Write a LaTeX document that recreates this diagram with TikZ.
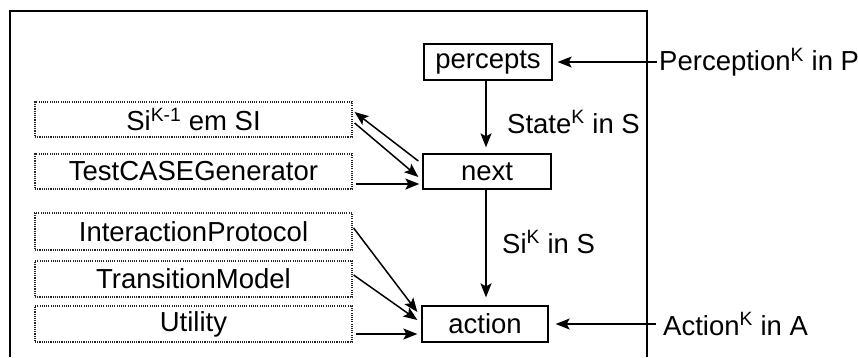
\documentclass[tikz,border=0pt]{standalone}
\usepackage{fontspec}
\setmainfont{Liberation Sans}
\usetikzlibrary{arrows.meta,calc}
\begin{document}
\begin{tikzpicture}[x=1pt,y=-1pt,
  every node/.style={font=\fontsize{27.5}{30}\selectfont},
  solidbox/.style={draw,line width=1.3pt,inner sep=0pt,minimum height=36pt},
  dotbox/.style={draw=black!85,line width=1.2pt,dash pattern=on 1.1pt off 1.1pt,inner sep=0pt,minimum width=317pt,minimum height=36pt},
  flow/.style={line width=1.5pt,-{Stealth[length=14pt,width=11pt,inset=3pt]}},
  lbl/.style={anchor=west,inner sep=0pt}]
\useasboundingbox (0,0) rectangle (858,357);
% open frame of the agent
\draw[line width=1.6pt] (10,357) -- (10,11) -- (647,11) -- (647,357);

% main pipeline
\node[solidbox,minimum width=128pt] (percepts) at (488,62) {percepts};
\node[solidbox,minimum width=128pt,minimum height=35pt] (next) at (487,171.5) {next};
\node[solidbox,minimum width=126pt] (action) at (485,324) {action};

% knowledge modules
\node[dotbox,minimum height=35pt] (si) at (193.5,119.5) {Si\textsuperscript{K-1} em SI};
\node[dotbox,minimum height=35pt] (test) at (193.5,171.5) {TestCASEGenerator};
\node[dotbox,minimum height=37pt] (inter) at (193.5,231.5) {InteractionProtocol};
\node[dotbox] (trans) at (193.5,279) {TransitionModel};
\node[dotbox] (util) at (193.5,324) {Utility};

% external inputs
\coordinate (pin) at (657,62);
\coordinate (ain) at (656,324);
\node[lbl] (plabel) at (659,62) {Perception\textsuperscript{K} in P};
\node[lbl] (alabel) at (663,324) {Action\textsuperscript{K} in A};
\draw[flow] (pin) -- ($(percepts.east)+(5,0)$);
\draw[flow] (ain) -- ($(action.east)+(7,0)$);

% vertical flow
\draw[flow] ($(percepts.south)+(-2,0)$) -- ($(next.north)+(-1,-6)$);
\node[lbl] (slabel) at (507,122) {State\textsuperscript{K} in S};
\draw[flow] ($(next.south)+(-1,0)$) -- ($(action.north)+(1,-8)$);
\node[lbl] (silabel) at (502,242) {Si\textsuperscript{K} in S};

% module connectors
\draw[flow] ($(next.west)+(-4,-10.5)$) -- ($(si.east)+(2,-7.5)$);
\draw[flow] ($(si.east)+(2,3.5)$) -- ($(next.west)+(-4,5.5)$);
\draw[flow] ($(test.east)+(3,12.5)$) -- ($(next.west)+(-3,12.5)$);
\draw[flow] ($(inter.east)+(1,-3.5)$) -- ($(action.west)+(-4,-12)$);
\draw[flow] ($(trans.east)+(1,-4)$) -- ($(action.west)+(-4,-4)$);
\draw[flow] ($(util.east)+(3,10)$) -- ($(action.west)+(-4,10)$);
\end{tikzpicture}
\end{document}
